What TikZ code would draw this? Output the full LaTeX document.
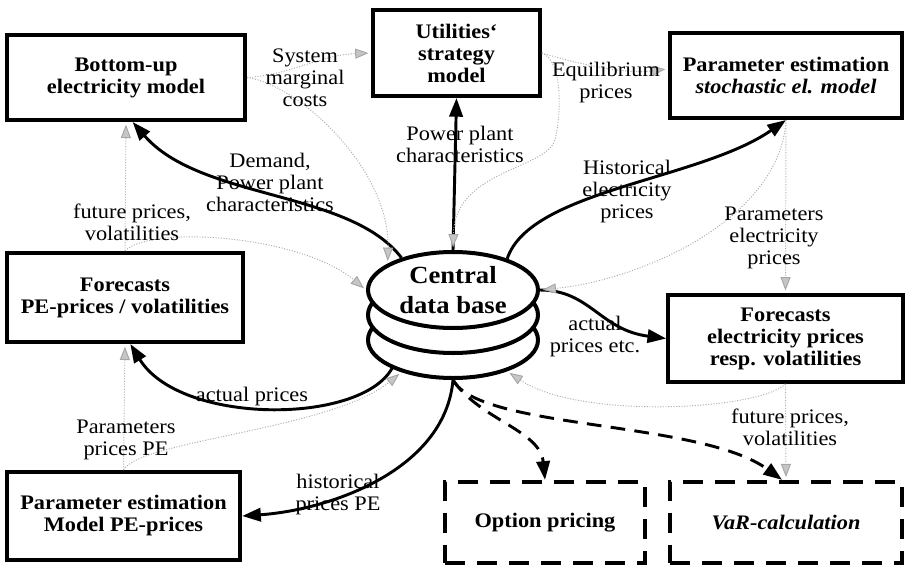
\documentclass[tikz,border=0pt]{standalone}
\usepackage{fontspec}
\setmainfont{Liberation Serif}[FakeStretch=1.08]
\usetikzlibrary{arrows.meta,shapes.geometric}

\tikzset{
  box/.style={draw, line width=3pt, align=center, inner sep=0pt, font=\fontsize{15.5}{16.5}\selectfont\bfseries},
  dashbox/.style={box, dash pattern=on 15pt off 9pt},
  disk/.style={ellipse, draw, fill=white, line width=3pt, minimum width=127.5pt, minimum height=57pt, inner sep=0pt},
  flow/.style={line width=2.2pt, -{Triangle[length=14pt,width=10pt]}},
  query/.style={flow, dash pattern=on 11pt off 7pt},
  info/.style={draw=gray!65, line width=0.7pt, dash pattern=on 0.8pt off 1.2pt, -{Triangle[length=10pt,width=7.5pt,fill=gray!45,color=gray!70]}, shorten >=2pt},
  lbl/.style={align=center, inner sep=0pt, font=\fontsize{15.5}{16.5}\selectfont},
}

\begin{document}
\begin{tikzpicture}[x=0.75pt,y=0.75pt,yscale=-1,xscale=1]
            \useasboundingbox (0,0) rectangle (905,567);

            % Boxes
            \node[box, minimum width=178.5pt, minimum height=63.75pt] (bottomup) at (126,77.5) {Bottom-up\\electricity model};
            \node[box, minimum width=125pt, minimum height=64.5pt] (utility) at (456.5,53) {Utilities‘\\strategy\\model};
            \node[box, minimum width=174pt, minimum height=63.75pt] (paramel) at (786,75.5) {Parameter estimation\\\textit{stochastic el. model}};
            \node[box, minimum width=177pt, minimum height=66.75pt] (forepe) at (125,297.5) {Forecasts\\PE-prices / volatilities};
            \node[box, minimum width=176pt, minimum height=65pt] (foreel) at (785.5,338.5) {Forecasts\\electricity prices\\resp. volatilities};
            \node[box, minimum width=175pt, minimum height=66pt] (parampe) at (123.5,516) {Parameter estimation\\Model PE-prices};
            \node[dashbox, minimum width=150pt, minimum height=61pt] (option) at (545,522.5) {Option pricing};
            \node[dashbox, minimum width=174pt, minimum height=61pt] (var) at (786,522.5) {\textit{VaR-calculation}};

            % Data base
            \node[disk] (db3) at (453,340) {};
            \node[disk] (db2) at (453,315) {};
            \node[disk, align=center, font=\fontsize{18.5}{22.5}\selectfont\bfseries] (db) at (453,290) {Central\\data base};

            % Arrows
            \draw[flow] (db.148) .. controls (350,190) and (200,200) .. ([xshift=5pt]bottomup.south);
            \draw[flow] (db.north) -- (utility.south);
            \draw[flow] (db.30) .. controls (530,190) and (700,180) .. (paramel.south);
            \draw[flow] (db.east) .. controls (590,290) and (600,330) .. (foreel.west);
            \draw[flow] (db3.205) .. controls (360,425) and (180,425) .. ([xshift=4pt]forepe.south);
            \draw[flow] (db3.south) .. controls (445,470) and (330,510) .. (parampe.east);
            \draw[query] (db3.south) .. controls (480,420) and (540,430) .. (option.north);
            \draw[query] (db3.south) .. controls (480,430) and (700,420) .. ([xshift=-3pt]var.north);

            % Information flows
            \draw[info] (bottomup.east) .. controls (290,75) and (320,55) .. (utility.west);
            \draw[info] (bottomup.east) .. controls (300,85) and (390,170) .. (db.158);
            \draw[info] (utility.east) .. controls (565,60) and (620,75) .. ([yshift=-5pt]paramel.west);
            \draw[info] (utility.east) .. controls (562,60) and (562,110) .. (555,140) .. controls (545,170) and (455,170) .. (db.north);
            \draw[info] (paramel.south) -- (foreel.north);
            \draw[info] (paramel.south) .. controls (780,220) and (640,280) .. (db.east);
            \draw[info] (foreel.south) .. controls (760,410) and (580,420) .. (db3.-30);
            \draw[info] (foreel.south) -- (var.north);
            \draw[info] (forepe.north) -- (bottomup.south);
            \draw[info] (forepe.north) .. controls (150,225) and (300,235) .. (db.west);
            \draw[info] (parampe.north) -- (forepe.south);
            \draw[info] (parampe.north) .. controls (140,440) and (330,430) .. (db3.212);

            % Labels
            \node[lbl] (lblsmc) at (305,78) {System\\marginal\\costs};
            \node[lbl] (lblequ) at (606,83) {Equilibrium\\prices};
            \node[lbl] (lblppc) at (460,144) {Power plant\\characteristics};
            \node[lbl] (lbldem) at (270,182) {Demand,\\Power plant\\characteristics};
            \node[lbl] (lblhis) at (627,192) {Historical\\electricity\\prices};
            \node[lbl] (lblfutpe) at (132,222) {future prices,\\volatilities};
            \node[lbl] (lblparel) at (774,238) {Parameters\\electricity\\prices};
            \node[lbl] (lblactel) at (595,337) {actual\\prices etc.};
            \node[lbl] (lblactpe) at (252,397) {actual prices};
            \node[lbl] (lblfutel) at (790,427) {future prices,\\volatilities};
            \node[lbl] (lblparpe) at (126,440) {Parameters\\prices PE};
            \node[lbl] (lblhispe) at (338,495) {historical\\prices PE};

\end{tikzpicture}
\end{document}
